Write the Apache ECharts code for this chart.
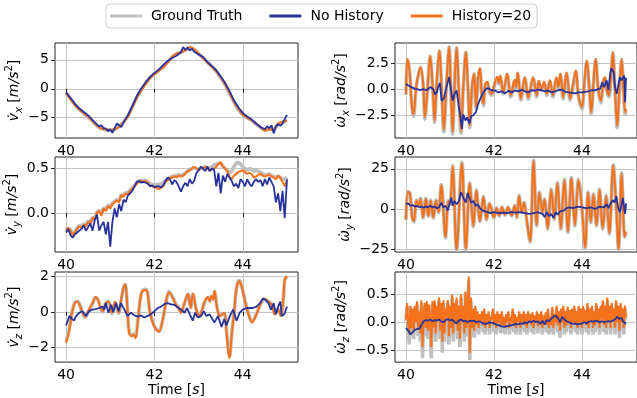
<!DOCTYPE html>
<html>
<head>
<meta charset="utf-8">
<script src="https://cdn.jsdelivr.net/npm/echarts@6/dist/echarts.min.js"></script>
<style>html,body{margin:0;padding:0;background:#fff}#c{width:637px;height:398px}</style>
</head>
<body>
<div id="c"></div>
<script>
// ---------------- DATA ----------------
const seriesNames = ['Ground Truth', 'No History', 'History=20'];
const xTicks = [40, 42, 44];

// v_x : uniform 0.1 s grid for GT / History=20
const vxGT = [-0.7,-1.7,-2.7,-3.5,-4.2,-4.9,-5.6,-6.4,-6.9,-7.1,-7.2,-7.0,-6.5,-5.7,-4.7,-3.1,-1.5,-0.2,0.9,1.9,2.6,3.2,3.8,4.6,5.5,6.0,6.3,6.7,7.1,6.8,6.1,5.3,4.6,3.9,3.0,1.9,0.7,-0.8,-2.3,-3.6,-4.5,-5.0,-5.5,-6.1,-6.7,-7.1,-7.0,-7.0,-6.1,-5.8,-5.4];
const vxHist = [-0.7,-1.8,-2.8,-3.6,-4.2,-4.8,-5.6,-6.3,-6.9,-7.0,-7.1,-7.0,-6.6,-5.8,-4.8,-3.2,-1.6,-0.3,0.8,1.8,2.5,3.1,3.7,4.5,5.5,6.1,6.3,6.6,7.2,6.8,6.1,5.3,4.5,3.8,3.0,2.0,0.8,-0.7,-2.2,-3.5,-4.5,-5.0,-5.4,-6.0,-6.6,-7.2,-7.0,-7.1,-6.0,-5.7,-5.5];
const vxNoHist = [[40.0,-0.6],[40.1,-1.6],[40.2,-2.6],[40.3,-3.4],[40.4,-4.0],[40.5,-4.6],[40.6,-5.4],[40.7,-6.2],[40.75,-6.5],[40.8,-6.3],[40.85,-6.8],[40.9,-6.9],[40.95,-7.3],[41.0,-7.0],[41.05,-7.6],[41.1,-6.8],[41.15,-6.0],[41.2,-6.3],[41.25,-6.6],[41.3,-5.8],[41.35,-5.2],[41.4,-4.6],[41.5,-3.0],[41.6,-1.3],[41.7,0.0],[41.8,1.1],[41.9,2.0],[42.0,2.7],[42.1,3.3],[42.2,4.1],[42.3,4.8],[42.4,5.3],[42.5,5.7],[42.6,6.3],[42.65,7.2],[42.7,6.7],[42.75,7.1],[42.8,6.6],[42.85,6.9],[42.9,6.4],[43.0,5.9],[43.1,5.5],[43.2,4.6],[43.3,3.9],[43.4,3.2],[43.5,2.1],[43.6,1.0],[43.7,-0.4],[43.8,-2.0],[43.9,-3.2],[44.0,-4.2],[44.1,-4.8],[44.2,-5.3],[44.3,-6.0],[44.4,-6.6],[44.5,-7.0],[44.55,-6.5],[44.6,-6.8],[44.65,-6.3],[44.7,-7.7],[44.75,-6.5],[44.8,-6.1],[44.85,-6.4],[44.9,-6.0],[44.95,-5.2],[45.0,-4.5]];

// v_y : uniform 0.05 s grid
const vyGT = [-0.19,-0.17,-0.19,-0.23,-0.21,-0.17,-0.14,-0.16,-0.12,-0.14,
-0.09,-0.11,-0.05,-0.07,0.01,0.03,-0.01,0.06,0.04,0.09,
0.07,0.11,0.13,0.15,0.14,0.21,0.19,0.23,0.22,0.26,
0.28,0.31,0.34,0.36,0.37,0.36,0.37,0.35,0.33,0.32,
0.31,0.32,0.32,0.33,0.34,0.36,0.38,0.40,0.41,0.42,
0.42,0.43,0.42,0.43,0.45,0.47,0.49,0.50,0.51,0.50,
0.49,0.50,0.51,0.52,0.51,0.50,0.52,0.54,0.55,0.56,
0.56,0.53,0.50,0.48,0.45,0.47,0.52,0.56,0.57,0.55,
0.52,0.50,0.48,0.50,0.49,0.47,0.48,0.47,0.46,0.44,
0.43,0.43,0.44,0.42,0.41,0.40,0.41,0.40,0.37,0.38,
0.40];
const vyHist = [-0.20,-0.17,-0.20,-0.25,-0.22,-0.18,-0.15,-0.17,-0.13,-0.15,
-0.10,-0.12,-0.05,-0.08,0.00,0.02,-0.03,0.05,0.02,0.08,
0.05,0.10,0.12,0.14,0.12,0.20,0.18,0.22,0.21,0.25,
0.27,0.30,0.33,0.35,0.36,0.35,0.36,0.34,0.31,0.30,
0.29,0.28,0.27,0.28,0.30,0.35,0.37,0.39,0.40,0.41,
0.40,0.42,0.41,0.42,0.44,0.47,0.48,0.50,0.52,0.50,
0.48,0.51,0.50,0.52,0.50,0.48,0.49,0.50,0.52,0.55,
0.57,0.52,0.50,0.47,0.40,0.38,0.42,0.44,0.46,0.47,
0.48,0.46,0.44,0.45,0.44,0.40,0.41,0.43,0.44,0.42,
0.41,0.42,0.43,0.41,0.40,0.38,0.42,0.40,0.35,0.30,
0.36];
const vyNoHist = [-0.22,-0.18,-0.25,-0.28,-0.24,-0.22,-0.20,-0.18,-0.14,-0.20,
-0.16,-0.12,-0.20,-0.08,-0.02,-0.20,-0.14,-0.10,-0.24,-0.10,
-0.38,-0.10,0.05,-0.05,0.10,0.02,0.15,0.12,0.20,0.22,
0.25,0.30,0.35,0.36,0.34,0.35,0.34,0.33,0.30,0.31,
0.29,0.30,0.30,0.29,0.31,0.36,0.40,0.38,0.32,0.37,
0.35,0.30,0.24,0.30,0.34,0.30,0.38,0.33,0.36,0.45,
0.48,0.52,0.50,0.47,0.52,0.47,0.50,0.49,0.30,0.45,
0.22,0.42,0.35,0.44,0.40,0.36,0.30,0.33,0.28,0.38,
0.35,0.30,0.38,0.33,0.30,0.35,0.38,0.35,0.37,0.30,
0.38,0.32,0.40,0.35,0.30,0.12,0.22,0.02,0.25,-0.06,
0.38];

// v_z : extrema-based samples
const vzT = [40.00,40.07,40.14,40.20,40.26,40.32,40.37,40.43,40.52,40.60,
40.67,40.72,40.77,40.83,40.90,40.96,41.04,41.11,41.19,41.24,
41.30,41.34,41.39,41.43,41.49,41.53,41.57,41.62,41.70,41.77,
41.83,41.90,42.00,42.10,42.19,42.27,42.33,42.42,42.50,42.53,
42.60,42.68,42.76,42.82,42.87,42.95,43.02,43.10,43.15,43.21,
43.25,43.29,43.33,43.36,43.42,43.48,43.58,43.63,43.67,43.70,
43.75,43.81,43.86,43.92,43.97,44.06,44.14,44.21,44.31,44.41,
44.48,44.58,44.65,44.73,44.80,44.86,44.92,44.95,45.00];
const vzGT = [-1.70,-1.00,0.05,0.55,0.62,0.32,-0.02,-0.30,0.10,0.48,
0.82,0.72,0.33,0.00,0.46,0.62,-0.10,0.55,-0.08,0.55,
1.35,1.55,0.20,-1.15,-1.30,-1.25,-1.42,-0.60,1.00,1.28,
1.25,0.00,-0.82,-1.10,-0.45,0.62,1.15,0.80,0.38,0.32,
-0.02,0.48,1.00,0.25,1.00,0.10,-0.28,0.28,0.62,0.82,
0.62,0.88,0.72,1.15,0.25,-0.20,-0.10,-1.05,-2.10,-2.55,
-1.25,0.15,1.35,1.80,1.52,0.55,-0.20,-0.55,-0.10,0.48,
0.72,0.60,0.42,-0.10,0.15,-0.20,0.80,1.80,2.05];
const vzHist = [-1.77,-1.10,0.00,0.50,0.58,0.30,0.00,-0.27,0.13,0.50,
0.85,0.70,0.30,0.04,0.50,0.58,-0.05,0.58,-0.05,0.58,
1.39,1.57,0.13,-1.22,-1.40,-1.30,-1.50,-0.68,1.03,1.24,
1.20,-0.05,-0.86,-1.13,-0.41,0.67,1.12,0.76,0.34,0.30,
-0.05,0.50,1.03,0.22,1.03,0.13,-0.23,0.30,0.67,0.85,
0.60,0.90,0.70,1.20,0.20,-0.23,-0.05,-1.13,-2.20,-2.63,
-1.30,0.13,1.39,1.75,1.48,0.50,-0.23,-0.60,-0.14,0.50,
0.76,0.58,0.40,-0.14,0.13,-0.23,0.85,1.84,2.02];
const vzNoHist = [[40.00,-0.77],[40.04,-0.75],[40.08,-0.23],[40.13,-0.4],[40.18,-0.5],[40.23,-0.23],[40.30,-0.05],[40.37,0.04],[40.45,-0.23],[40.52,0.04],[40.60,0.13],[40.67,0.16],[40.75,0.22],[40.83,0.3],[40.86,0.13],[40.90,0.5],[40.96,-0.05],[41.02,0.4],[41.07,-0.02],[41.13,0.5],[41.19,0.04],[41.24,0.5],[41.32,0.13],[41.39,-0.23],[41.47,-0.05],[41.55,-0.2],[41.62,-0.27],[41.70,-0.2],[41.77,-0.32],[41.85,-0.23],[41.92,-0.14],[42.00,0.04],[42.08,0.22],[42.15,0.3],[42.23,0.45],[42.30,0.5],[42.38,0.43],[42.45,0.4],[42.53,0.25],[42.60,0.13],[42.68,-0.05],[42.74,0.22],[42.80,-0.14],[42.87,-0.5],[42.92,-0.05],[42.98,-0.32],[43.06,-0.23],[43.12,0.04],[43.17,-0.23],[43.25,-0.14],[43.31,-0.41],[43.36,-0.6],[43.44,-0.23],[43.52,-0.86],[43.58,-0.41],[43.63,-0.77],[43.71,-0.23],[43.78,0.13],[43.86,-0.5],[43.93,-0.05],[44.00,0.13],[44.08,0.22],[44.16,0.22],[44.23,0.22],[44.31,0.3],[44.39,0.5],[44.46,0.76],[44.52,0.67],[44.58,0.5],[44.64,0.13],[44.70,0.5],[44.75,-0.14],[44.80,0.3],[44.85,0.58],[44.88,-0.23],[44.94,-0.14],[45.00,0.3]];

// omega_x : extrema-based samples
const wxT = [40.00,40.03,40.08,40.13,40.17,40.23,40.28,40.33,40.39,40.43,
40.48,40.55,40.61,40.65,40.70,40.76,40.81,40.86,40.92,40.98,
41.02,41.06,41.10,41.15,41.20,41.25,41.30,41.36,41.41,41.45,
41.50,41.55,41.59,41.64,41.68,41.72,41.76,41.80,41.85,41.89,
41.95,42.00,42.07,42.11,42.14,42.21,42.30,42.38,42.47,42.50,
42.54,42.61,42.70,42.78,42.89,42.97,43.02,43.08,43.14,43.20,
43.27,43.34,43.42,43.46,43.51,43.57,43.65,43.73,43.80,43.86,
43.92,44.00,44.05,44.11,44.16,44.21,44.26,44.31,44.37,44.43,
44.48,44.52,44.56,44.61,44.66,44.70,44.75,44.80,44.85,44.90,
44.95,44.98,45.00];
const wxGT = [-0.55,2.85,1.75,-1.55,-2.60,0.10,1.35,2.05,0.40,-2.90,
-0.60,3.15,-0.20,-3.20,0.70,3.65,-0.10,-4.10,0.40,4.05,
-0.10,-4.30,-0.10,3.95,-0.10,-4.20,-0.10,3.55,-0.10,-3.70,
0.10,1.45,-1.90,1.00,1.95,-0.50,-1.60,0.40,0.60,-0.20,
-0.60,0.20,1.10,0.50,1.20,-0.45,1.40,-0.75,0.80,0.10,
1.50,-1.05,1.05,-0.95,1.05,-0.75,0.70,-0.10,0.60,-0.60,
0.75,-0.75,1.05,0.10,1.40,-0.95,1.50,-1.05,0.40,1.70,
-0.75,-1.90,0.40,2.65,0.40,-2.40,0.50,2.85,-0.10,-1.30,
0.60,1.05,-0.10,-0.75,1.10,3.50,-0.10,-3.70,-0.10,2.85,
-0.75,-2.40,-2.00];
const wxHist = [-0.45,2.90,1.80,-1.40,-2.40,0.20,1.40,2.10,0.50,-2.70,
-0.50,3.20,-0.10,-3.00,0.80,3.70,0.00,-3.90,0.50,4.10,
0.00,-4.10,0.00,4.00,0.00,-4.00,0.00,3.60,0.00,-3.50,
0.20,1.50,-1.70,1.10,2.00,-0.40,-1.40,0.50,0.70,-0.10,
-0.45,0.30,1.20,0.60,1.30,-0.30,1.50,-0.60,0.90,0.20,
1.60,-0.90,1.15,-0.80,1.15,-0.60,0.80,0.00,0.70,-0.45,
0.85,-0.60,1.15,0.20,1.50,-0.80,1.60,-0.90,0.50,1.80,
-0.60,-1.70,0.50,2.75,0.50,-2.20,0.60,2.90,0.00,-1.10,
0.70,1.15,0.00,-0.60,1.20,3.55,0.00,-3.50,0.00,2.90,
-0.60,-2.20,-1.90];
const wxNoHist = [[40.00,0.5],[40.05,0.35],[40.09,0.2],[40.15,0.15],[40.20,0.03],[40.26,0.0],[40.32,-0.1],[40.39,0.0],[40.47,-0.1],[40.55,0.2],[40.62,0.0],[40.66,-0.5],[40.70,-0.3],[40.73,0.2],[40.77,0.6],[40.81,-1.1],[40.86,-0.9],[40.92,0.2],[40.98,1.15],[41.02,0.0],[41.06,-1.1],[41.10,-0.5],[41.15,-0.13],[41.20,-1.7],[41.24,-2.7],[41.27,-3.8],[41.30,-2.4],[41.35,-3.0],[41.39,-2.7],[41.44,-3.3],[41.48,-2.6],[41.53,-2.5],[41.59,-2.2],[41.64,-1.4],[41.70,-0.8],[41.76,-0.3],[41.82,0.03],[41.87,0.1],[41.95,-0.1],[42.02,-0.13],[42.10,-0.3],[42.17,-0.2],[42.25,-0.4],[42.33,-0.15],[42.40,-0.3],[42.48,-0.13],[42.55,-0.2],[42.63,-0.05],[42.70,-0.2],[42.78,-0.3],[42.85,-0.1],[42.93,-0.15],[43.00,-0.05],[43.08,-0.1],[43.15,-0.2],[43.23,-0.13],[43.30,-0.3],[43.39,-0.2],[43.46,-0.1],[43.54,-0.05],[43.62,-0.25],[43.69,-0.3],[43.77,-0.35],[43.84,-0.4],[43.92,-0.3],[44.00,-0.3],[44.07,-0.25],[44.14,-0.2],[44.22,-0.1],[44.30,-0.1],[44.36,0.0],[44.41,0.03],[44.46,0.67],[44.50,0.2],[44.56,0.85],[44.60,-0.1],[44.64,1.5],[44.67,2.0],[44.72,1.6],[44.75,0.2],[44.79,-0.45],[44.83,0.5],[44.86,1.15],[44.90,0.85],[44.94,1.0],[44.96,1.3],[44.98,-1.25],[45.00,1.1]];

// omega_y : extrema-based samples
const wyT = [40.00,40.04,40.09,40.14,40.18,40.24,40.29,40.33,40.39,40.45,
40.51,40.56,40.62,40.68,40.74,40.80,40.90,40.96,41.00,41.06,
41.15,41.27,41.36,41.45,41.53,41.60,41.68,41.76,41.83,41.90,
42.00,42.06,42.12,42.18,42.25,42.32,42.40,42.47,42.52,42.57,
42.63,42.68,42.75,42.82,42.90,42.97,43.03,43.10,43.15,43.22,
43.30,43.37,43.44,43.52,43.60,43.68,43.76,43.84,43.92,44.00,
44.07,44.14,44.20,44.26,44.33,44.40,44.47,44.55,44.62,44.71,
44.78,44.83,44.90,44.97,45.00];
const wyGT = [-6.8,11.0,9.8,-5.6,-8.0,5.6,2.3,6.6,-5.6,6.6,
-4.6,5.6,-5.6,5.6,-2.3,15.2,-18.0,5.2,3.2,27.0,
-25.6,29.0,-25.3,16.2,-11.0,12.0,-7.8,7.8,-6.7,3.5,
-5.6,0.8,-4.4,1.2,-3.9,1.2,-4.4,2.2,-5.4,8.4,
-2.3,4.2,-8.5,-20.5,30.2,-10.5,10.5,-2.3,6.2,-12.5,
12.5,-6.5,16.5,-12.5,18.5,-14.5,19.5,-10.5,18.5,0.0,
-24.5,10.5,-8.5,9.5,-10.5,12.5,-12.5,8.5,-15.5,27.5,
0.0,-25.5,22.5,-17.5,-14.5];
const wyHist = [-6.3,10.5,9.5,-5.2,-7.4,5.3,2.1,6.3,-5.2,6.3,
-4.2,5.3,-5.2,5.3,-2.0,14.7,-17.4,5.0,3.0,26.3,
-25.2,28.4,-24.8,15.8,-10.5,11.6,-7.4,7.4,-6.3,3.2,
-5.2,0.5,-4.0,1.0,-3.5,1.0,-4.0,2.0,-5.0,8.0,
-2.0,4.0,-8.0,-20.0,29.8,-10.0,10.0,-2.0,6.0,-12.0,
12.0,-6.0,16.0,-12.0,18.0,-14.0,19.0,-10.0,18.0,0.0,
-24.0,10.0,-8.0,9.0,-10.0,12.0,-12.0,8.0,-15.0,27.0,
0.0,-25.0,22.0,-17.0,-14.0];
const wyNoHist = [[40.00,3.0],[40.05,3.5],[40.10,2.0],[40.15,2.5],[40.20,1.5],[40.25,2.0],[40.30,1.0],[40.35,1.5],[40.40,0.8],[40.45,1.5],[40.50,1.0],[40.55,2.0],[40.60,1.0],[40.65,1.5],[40.70,0.5],[40.75,1.0],[40.80,4.0],[40.85,1.0],[40.90,2.0],[40.95,-1.0],[41.00,4.0],[41.03,7.0],[41.06,2.0],[41.10,5.0],[41.15,3.0],[41.20,5.0],[41.25,10.5],[41.28,11.5],[41.32,6.0],[41.36,4.0],[41.40,10.0],[41.44,7.0],[41.48,4.0],[41.53,5.0],[41.58,2.0],[41.63,3.0],[41.68,0.5],[41.74,-1.0],[41.80,-1.5],[41.86,-2.0],[41.92,-2.5],[42.00,-2.0],[42.10,-2.5],[42.20,-2.2],[42.30,-2.5],[42.40,-2.0],[42.50,-2.3],[42.60,-2.0],[42.70,-2.5],[42.80,-3.0],[42.90,-2.5],[43.00,-2.0],[43.10,-3.0],[43.15,-5.0],[43.20,-2.0],[43.25,-4.5],[43.30,-3.0],[43.35,-5.5],[43.40,-2.0],[43.45,-3.5],[43.50,-1.5],[43.58,-1.0],[43.65,0.5],[43.72,1.0],[43.80,0.5],[43.90,1.5],[44.00,1.0],[44.10,0.5],[44.20,1.0],[44.30,0.0],[44.40,1.5],[44.50,1.0],[44.56,3.0],[44.60,0.5],[44.65,3.5],[44.70,5.5],[44.74,4.0],[44.78,8.0],[44.82,1.0],[44.86,-2.0],[44.90,3.0],[44.93,7.0],[44.96,0.0],[44.98,-3.0],[45.00,3.5]];

// omega_z : uniform 0.025 s grid
const wzGT = [0.02,0.30,-0.15,-0.40,0.25,-0.25,0.20,-0.30,0.25,-0.10,
0.32,-0.25,0.15,-0.35,0.35,-0.65,0.05,0.30,-0.25,0.32,
-0.30,0.28,-0.10,-0.65,0.32,-0.25,0.35,-0.35,0.25,-0.10,
0.40,-0.30,0.30,-0.55,0.35,-0.35,0.20,-0.05,0.35,-0.40,
0.25,-0.25,0.45,-0.35,0.30,-0.15,0.40,-0.30,0.25,-0.45,
0.45,-0.15,0.25,-0.35,0.50,-0.25,0.15,0.75,-0.68,0.40,
-0.25,0.20,-0.28,0.25,-0.18,0.15,-0.22,0.10,-0.12,0.15,
-0.18,0.20,-0.22,0.10,-0.12,0.15,-0.22,0.05,-0.08,0.20,
-0.18,0.10,-0.22,0.15,-0.12,0.10,-0.20,0.15,-0.18,0.05,
-0.22,0.10,-0.12,0.15,-0.22,0.05,-0.12,0.20,-0.18,0.10,
-0.22,0.05,-0.12,0.15,-0.22,0.10,-0.12,0.15,-0.18,0.10,
-0.22,0.15,-0.12,0.10,-0.18,0.13,-0.22,0.07,-0.12,0.15,
-0.20,0.10,-0.12,0.15,-0.22,0.07,-0.12,0.13,-0.18,0.20,
-0.22,0.05,-0.18,0.23,-0.22,0.10,-0.12,0.25,-0.18,0.15,
-0.28,0.20,-0.12,0.25,-0.22,0.15,-0.18,0.23,-0.12,0.17,
-0.22,0.20,-0.12,0.25,-0.18,0.15,-0.22,0.25,-0.12,0.20,
-0.22,0.25,-0.12,0.17,-0.18,0.30,-0.22,0.20,-0.12,0.25,
-0.22,0.15,-0.18,0.30,-0.12,0.20,-0.22,0.25,-0.08,0.35,
-0.18,0.25,-0.22,0.40,-0.12,0.25,-0.22,0.30,-0.08,0.20,
-0.22,0.35,-0.12,0.25,-0.28,0.30,-0.12,0.20,-0.22,0.25,
0.05];
const wzHist = [0.05,0.35,-0.05,-0.20,0.30,-0.10,0.25,-0.15,0.30,0.00,
0.38,-0.10,0.20,-0.20,0.40,-0.45,0.10,0.35,-0.10,0.38,
-0.15,0.32,0.00,-0.45,0.38,-0.10,0.40,-0.20,0.30,0.05,
0.45,-0.15,0.35,-0.35,0.40,-0.20,0.25,0.10,0.40,-0.25,
0.30,-0.10,0.50,-0.20,0.35,0.00,0.45,-0.15,0.30,-0.30,
0.50,0.00,0.30,-0.20,0.55,-0.10,0.20,0.83,-0.55,0.45,
-0.10,0.25,-0.15,0.30,-0.05,0.20,-0.10,0.15,0.00,0.20,
-0.05,0.25,-0.10,0.15,0.00,0.20,-0.10,0.10,0.05,0.25,
-0.05,0.15,-0.10,0.20,0.00,0.15,-0.08,0.20,-0.05,0.10,
-0.10,0.15,0.00,0.20,-0.10,0.10,0.00,0.25,-0.05,0.15,
-0.10,0.10,0.00,0.20,-0.10,0.15,0.00,0.20,-0.05,0.15,
-0.10,0.20,0.00,0.15,-0.05,0.18,-0.10,0.12,0.00,0.20,
-0.08,0.15,0.00,0.20,-0.10,0.12,0.00,0.18,-0.05,0.25,
-0.10,0.10,-0.05,0.28,-0.10,0.15,0.00,0.30,-0.05,0.20,
-0.15,0.25,0.00,0.30,-0.10,0.20,-0.05,0.28,0.00,0.22,
-0.10,0.25,0.00,0.30,-0.05,0.20,-0.10,0.30,0.00,0.25,
-0.10,0.30,0.00,0.22,-0.05,0.35,-0.10,0.25,0.00,0.30,
-0.10,0.20,-0.05,0.35,0.00,0.25,-0.10,0.30,0.05,0.40,
-0.05,0.30,-0.10,0.45,0.00,0.30,-0.10,0.35,0.05,0.25,
-0.10,0.40,0.00,0.30,-0.15,0.35,0.00,0.25,-0.10,0.30,
0.10];
const wzNoHist = [[40.00,-0.1],[40.05,-0.15],[40.10,-0.22],[40.15,-0.18],[40.20,-0.14],[40.25,-0.12],[40.30,-0.12],[40.35,-0.05],[40.40,0.02],[40.45,0.04],[40.50,0.03],[40.55,0.05],[40.60,0.02],[40.65,0.04],[40.70,0.03],[40.75,0.05],[40.80,0.02],[40.85,0.0],[40.90,0.04],[40.95,0.06],[41.00,0.03],[41.05,0.05],[41.10,0.0],[41.15,-0.02],[41.20,0.03],[41.25,0.05],[41.30,0.02],[41.35,0.03],[41.40,0.0],[41.45,0.03],[41.50,0.02],[41.55,0.03],[41.60,0.0],[41.65,0.02],[41.70,0.0],[41.75,-0.02],[41.80,-0.03],[41.85,-0.02],[41.90,0.0],[41.95,-0.01],[42.00,-0.02],[42.05,-0.04],[42.10,-0.05],[42.15,-0.07],[42.20,-0.08],[42.25,-0.08],[42.30,-0.07],[42.35,-0.06],[42.40,-0.05],[42.45,-0.04],[42.50,-0.03],[42.55,-0.04],[42.60,-0.02],[42.65,-0.03],[42.70,0.0],[42.75,-0.02],[42.80,0.02],[42.85,0.0],[42.90,0.03],[42.95,0.0],[43.00,0.02],[43.05,-0.03],[43.10,0.03],[43.15,-0.04],[43.20,0.04],[43.25,0.02],[43.30,0.06],[43.35,0.1],[43.40,0.12],[43.45,0.08],[43.50,0.0],[43.55,0.1],[43.60,0.05],[43.65,0.02],[43.70,0.0],[43.75,-0.02],[43.80,-0.03],[43.85,-0.02],[43.90,-0.04],[43.95,-0.03],[44.00,-0.02],[44.05,0.0],[44.10,-0.02],[44.15,0.01],[44.20,0.02],[44.25,0.01],[44.30,0.03],[44.35,0.02],[44.40,0.0],[44.45,0.02],[44.50,0.0],[44.55,0.01],[44.60,0.02],[44.65,0.01],[44.70,0.03],[44.75,0.05],[44.80,0.1],[44.85,0.06],[44.90,0.08],[44.93,0.02],[44.96,0.04],[45.00,-0.03]];

// y tick values per panel
const vxTicks = [-5, 0, 5];
const wxTicks = [-2.5, 0, 2.5];
const vyTicks = [0, 0.5];
const wyTicks = [-25, 0, 25];
const vzTicks = [-2, 0, 2];
const wzTicks = [-0.5, 0, 0.5];

// ---------------- BUILD ----------------
function onGrid(t0, step, vals) { return vals.map((v, i) => [Math.round((t0 + i * step) * 1000) / 1000, v]); }
function zip(ts, vals) { return ts.map((t, i) => [t, vals[i]]); }

const F = 'DejaVu Sans';
const C_GT = '#bfbfbf', C_NO = '#28339a', C_H = '#f5721c';

const richY = {
  i: { fontFamily: F, fontSize: 14, fontStyle: 'italic', lineHeight: 20, color: '#000' },
  n: { fontFamily: F, fontSize: 14, lineHeight: 20, color: '#000' },
  sb: { fontFamily: F, fontSize: 10, fontStyle: 'italic', lineHeight: 10, verticalAlign: 'bottom', color: '#000' },
  sp: { fontFamily: F, fontSize: 10, lineHeight: 10, verticalAlign: 'top', color: '#000' }
};

const panels = [
  { col: 0, row: 0, yr: [-8.5, 7.9], ticks: vxTicks, dec: 0, name: '{i|v\u0307}{sb|x}{n| [}{i|m/s}{sp|2}{n|]}',
    gt: onGrid(40, 0.1, vxGT), h: onGrid(40, 0.1, vxHist), no: vxNoHist, sm: 0.2 },
  { col: 1, row: 0, yr: [-4.68, 4.43], ticks: wxTicks, dec: 1, name: '{i|\u03c9\u0307}{sb|x}{n| [}{i|rad/s}{sp|2}{n|]}',
    gt: zip(wxT, wxGT), h: zip(wxT, wxHist), no: wxNoHist, sm: 0.35 },
  { col: 0, row: 1, yr: [-0.44, 0.63], ticks: vyTicks, dec: 1, name: '{i|v\u0307}{sb|y}{n| [}{i|m/s}{sp|2}{n|]}',
    gt: onGrid(40, 0.05, vyGT), h: onGrid(40, 0.05, vyHist), no: onGrid(40, 0.05, vyNoHist), sm: 0 },
  { col: 1, row: 1, yr: [-26.7, 32.3], ticks: wyTicks, dec: 0, name: '{i|\u03c9\u0307}{sb|y}{n| [}{i|rad/s}{sp|2}{n|]}',
    gt: zip(wyT, wyGT), h: zip(wyT, wyHist), no: wyNoHist, sm: 0.35 },
  { col: 0, row: 2, yr: [-2.86, 2.27], ticks: vzTicks, dec: 0, name: '{i|v\u0307}{sb|z}{n| [}{i|m/s}{sp|2}{n|]}',
    gt: zip(vzT, vzGT), h: zip(vzT, vzHist), no: vzNoHist, sm: 0.35 },
  { col: 1, row: 2, yr: [-0.72, 0.91], ticks: wzTicks, dec: 1, name: '{i|\u03c9\u0307}{sb|z}{n| [}{i|rad/s}{sp|2}{n|]}',
    gt: onGrid(40, 0.025, wzGT), h: onGrid(40, 0.025, wzHist), no: wzNoHist, sm: 0 }
];

const colLeft = [55, 395], colW = [243, 242];
const rowTop = [43, 157, 272], rowH = 95;

const fmt = (dec) => (v) => { const s = Math.abs(v).toFixed(dec); return (v < 0 ? '\u2212' : '') + s; };

const grids = [], xAxes = [], yAxes = [], series = [];
panels.forEach((p, k) => {
  grids.push({ left: colLeft[p.col], top: rowTop[p.row], width: colW[p.col], height: rowH,
    show: true, borderColor: '#222', borderWidth: 1, backgroundColor: '#fff', containLabel: false });
  const xa = {
    type: 'value', gridIndex: k, min: 39.75, max: 45.25,
    axisLine: { show: false },
    axisTick: { show: true, length: 4, customValues: xTicks, lineStyle: { color: '#222' } },
    axisLabel: { customValues: xTicks, margin: 6, fontSize: 14, fontFamily: F, color: '#000' },
    splitLine: { show: true, lineStyle: { color: '#c4c4c4', width: 1 } }
  };
  if (p.row === 2) {
    xa.name = '{n|Time [}{i|s}{n|]}';
    xa.nameLocation = 'middle';
    xa.nameGap = 20;
    xa.nameTextStyle = { rich: { n: { fontFamily: F, fontSize: 14, color: '#000' }, i: { fontFamily: F, fontSize: 14, fontStyle: 'italic', color: '#000' } } };
  }
  xAxes.push(xa);
  yAxes.push({
    type: 'value', gridIndex: k, min: p.yr[0], max: p.yr[1],
    axisLine: { show: false },
    axisTick: { show: true, length: 4, customValues: p.ticks, lineStyle: { color: '#222' } },
    axisLabel: { customValues: p.ticks, margin: 6, fontSize: 14, fontFamily: F, color: '#000', formatter: fmt(p.dec) },
    splitLine: { show: true, lineStyle: { color: '#c4c4c4', width: 1 } },
    name: p.name, nameLocation: 'middle', nameRotate: 90, nameGap: p.col === 0 ? 27 : 39,
    nameTextStyle: { rich: richY }
  });
  const common = { type: 'line', xAxisIndex: k, yAxisIndex: k, showSymbol: false, symbol: 'none', silent: true, animation: false, clip: true };
  series.push(Object.assign({}, common, { name: seriesNames[0], data: p.gt, color: C_GT, smooth: p.sm, lineStyle: { color: C_GT, width: 3.6 }, z: 2 }));
  series.push(Object.assign({}, common, { name: seriesNames[2], data: p.h, color: C_H, smooth: p.sm, lineStyle: { color: C_H, width: 2.1 }, z: 3 }));
  series.push(Object.assign({}, common, { name: seriesNames[1], data: p.no, color: C_NO, lineStyle: { color: C_NO, width: 1.8 }, z: 4 }));
});

const chart = echarts.init(document.getElementById('c'), null, { renderer: 'canvas' });
chart.setOption({
  backgroundColor: '#fff',
  animation: false,
  legend: {
    top: 4, left: 106, itemWidth: 32, itemHeight: 3, itemGap: 27,
    padding: [5, 6, 5, 4], borderColor: '#d0d0d0', borderWidth: 1, borderRadius: 4,
    textStyle: { fontSize: 14, fontFamily: F, color: '#000', padding: [0, 0, 0, 4] },
    selectedMode: false,
    data: [
      { name: seriesNames[0], icon: 'rect', itemStyle: { color: C_GT } },
      { name: seriesNames[1], icon: 'rect', itemStyle: { color: C_NO } },
      { name: seriesNames[2], icon: 'rect', itemStyle: { color: C_H } }
    ]
  },
  grid: grids, xAxis: xAxes, yAxis: yAxes, series: series
});
</script>
</body>
</html>
